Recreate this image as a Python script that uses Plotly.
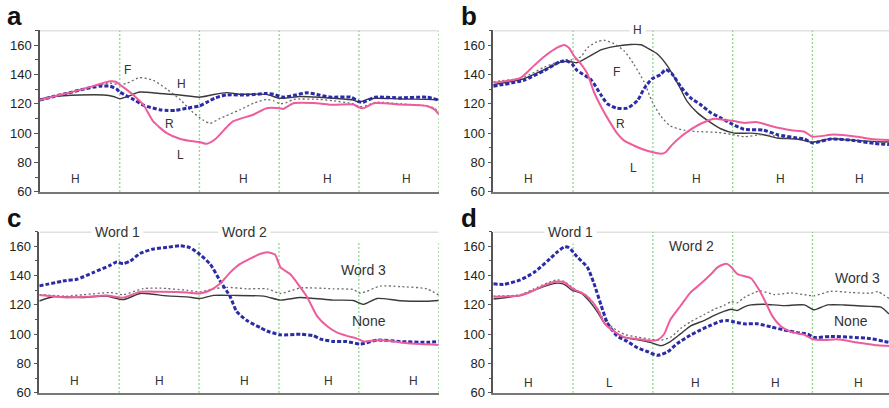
import plotly.graph_objects as go

# ---------------- data (x in segment units, y in Hz) ----------------
# Panel a
a_black_x = [0, 0.17, 0.5, 0.8, 0.92, 1.0, 1.1, 1.25, 1.5, 1.75, 2.0, 2.15, 2.34, 2.5, 2.84, 3.0, 3.1, 3.26, 3.5, 3.68, 3.93, 4.0, 4.1, 4.2, 4.52, 4.85, 5.0]
a_black_y = [123, 125, 126, 126, 125, 123.5, 125, 128, 127, 126, 124.5, 126, 127.6, 126.5, 126.4, 123.8, 124, 125, 124.5, 123.8, 122.5, 121, 123, 123.8, 123.3, 123, 122.7]
a_blue_x = [0, 0.17, 0.33, 0.55, 0.75, 0.88, 0.96, 1.0, 1.1, 1.17, 1.3, 1.5, 1.6, 1.7, 1.84, 2.0, 2.09, 2.2, 2.34, 2.6, 2.84, 2.93, 3.05, 3.2, 3.35, 3.5, 3.65, 3.9, 4.0, 4.05, 4.2, 4.5, 4.85, 5.0]
a_blue_y = [122.5, 125, 127, 130, 132, 132, 130, 128, 125, 123, 119, 116, 115.5, 115.5, 117, 118.5, 121, 124, 126, 126, 127, 126.5, 124.5, 126, 127.5, 126, 124.5, 124.5, 121.5, 121, 124.5, 124, 124.5, 122.5]
a_pink_x = [0, 0.17, 0.33, 0.6, 0.75, 0.88, 0.95, 1.0, 1.09, 1.17, 1.3, 1.42, 1.59, 1.76, 1.92, 2.0, 2.09, 2.2, 2.34, 2.42, 2.68, 2.84, 3.0, 3.05, 3.18, 3.43, 3.68, 3.93, 4.0, 4.05, 4.2, 4.52, 4.85, 4.95, 5.0]
a_pink_y = [122.5, 125, 127, 131, 133.5, 135.3, 135, 133, 129.5, 126, 119, 108, 100, 96, 94.4, 94, 92.7, 96, 104, 108, 112.7, 117, 117, 116.5, 120.4, 120.5, 119.3, 119.5, 117.5, 117, 120.5, 119.5, 118.5, 116, 113]
a_dot_x = [0, 0.33, 0.6, 0.88, 1.0, 1.09, 1.25, 1.42, 1.59, 1.76, 1.9, 2.05, 2.13, 2.26, 2.51, 2.68, 2.84, 2.93, 3.01, 3.1, 3.18, 3.5, 3.68, 3.93, 4.01, 4.1, 4.22, 4.52, 4.85, 4.95, 5.0]
a_dot_y = [123, 127, 131, 134, 133, 134, 137.8, 136, 130, 122.7, 115, 108.7, 106.7, 110, 116, 120.4, 123, 122, 120, 121, 123, 123, 122, 120, 118, 119, 121, 120, 118.5, 117, 113]

# Panel b
b_black_x = [0, 0.38, 0.64, 0.84, 0.93, 0.99, 1.05, 1.18, 1.35, 1.51, 1.72, 1.85, 1.93, 2.06, 2.18, 2.32, 2.43, 2.56, 2.73, 2.85, 3.02, 3.23, 3.39, 3.56, 3.81, 4.0, 4.23, 4.56, 4.82, 4.96]
b_black_y = [133, 137, 143.3, 148.2, 149, 148.5, 148, 151.6, 156.7, 158.9, 160.4, 160.2, 158, 153.8, 146, 133, 121.6, 113.8, 107, 103, 100, 100, 98.9, 96.7, 96, 93.8, 96.2, 95, 94.2, 94]
b_blue_x = [0, 0.38, 0.64, 0.84, 0.93, 0.99, 1.05, 1.22, 1.35, 1.43, 1.55, 1.68, 1.81, 1.89, 1.99, 2.10, 2.16, 2.24, 2.35, 2.47, 2.60, 2.73, 2.85, 3.0, 3.14, 3.39, 3.56, 3.77, 3.90, 4.0, 4.23, 4.52, 4.77, 4.96]
b_blue_y = [132, 136, 142.7, 148.7, 149, 147, 142.7, 136.7, 126, 120, 117, 117, 122.4, 130.4, 137, 140, 143.3, 140.4, 131.6, 124.2, 119.3, 113.8, 110.4, 106, 102.7, 102, 99, 97, 96, 93.3, 96, 95, 93, 92.2]
b_pink_x = [0, 0.34, 0.51, 0.64, 0.80, 0.89, 0.95, 1.01, 1.10, 1.18, 1.26, 1.35, 1.43, 1.55, 1.64, 1.76, 1.89, 1.99, 2.10, 2.16, 2.24, 2.35, 2.45, 2.60, 2.77, 2.89, 3.02, 3.14, 3.31, 3.48, 3.73, 3.90, 4.0, 4.27, 4.56, 4.73, 4.96]
b_pink_y = [134.4, 137.6, 146, 152.2, 158.2, 160, 158, 152.7, 147, 140.4, 128.2, 118.2, 110.4, 100, 94.9, 91.6, 88.7, 87.1, 86, 87, 92, 97.6, 101.6, 106.4, 109.8, 109, 108.2, 107, 107.5, 104.9, 102, 101, 97.6, 99, 97.5, 96, 95.3]
b_dot_x = [0, 0.38, 0.64, 0.89, 0.99, 1.10, 1.18, 1.30, 1.39, 1.51, 1.64, 1.76, 1.89, 1.99, 2.10, 2.22, 2.39, 2.56, 2.81, 3.0, 3.14, 3.39, 3.64, 3.81, 4.0, 4.23, 4.56, 4.82, 4.96]
b_dot_y = [135, 138, 145, 150, 150, 152.2, 158.2, 162.2, 163.3, 161, 156, 147.1, 134.9, 121.6, 111.6, 104.9, 102, 101.1, 100.5, 99, 97.6, 99, 97, 96, 94, 96, 95, 94, 94]

# Panel c
c_blue_x = [0, 0.34, 0.47, 0.68, 0.89, 0.97, 1.05, 1.14, 1.26, 1.43, 1.60, 1.76, 1.89, 2.01, 2.14, 2.26, 2.39, 2.47, 2.60, 2.77, 2.85, 3.02, 3.27, 3.43, 3.52, 3.68, 3.85, 4.02, 4.23, 4.52, 4.85, 5.0]
c_blue_y = [133, 136.7, 137.5, 142.2, 147.1, 149.3, 148.2, 150, 155.1, 158.2, 159.3, 160.4, 159, 154.4, 147.8, 136.7, 125.6, 115.6, 109.3, 104.4, 102.2, 99.6, 100, 99, 96.7, 95.1, 95, 93.3, 96, 95, 94.5, 95]
c_black_x = [0, 0.175, 0.55, 0.84, 1.05, 1.26, 1.39, 1.60, 1.85, 2.01, 2.18, 2.43, 2.81, 3.02, 3.27, 3.68, 3.93, 4.06, 4.23, 4.52, 4.85, 5.0]
c_black_y = [122.7, 125.6, 125, 126, 123.6, 127.8, 127.5, 126.2, 125.5, 124.4, 126.5, 126.5, 126, 123.3, 125.1, 123.3, 123, 120.4, 124.4, 122.9, 122.5, 123]
c_dot_x = [0, 0.34, 0.55, 0.89, 1.05, 1.30, 1.51, 1.85, 2.01, 2.18, 2.35, 2.60, 2.85, 3.02, 3.27, 3.68, 3.93, 4.02, 4.27, 4.52, 4.85, 5.0]
c_dot_y = [127.1, 126, 127, 128.4, 127, 131.1, 131.5, 130, 128.9, 131, 132, 131, 131, 127.8, 131.6, 131, 130.5, 128, 132.9, 132.5, 131, 126.7]
c_pink_x = [0, 0.34, 0.59, 0.84, 1.05, 1.26, 1.51, 1.85, 2.01, 2.14, 2.26, 2.39, 2.51, 2.64, 2.77, 2.85, 2.95, 3.02, 3.14, 3.22, 3.35, 3.48, 3.60, 3.73, 3.85, 3.98, 4.06, 4.27, 4.52, 4.77, 5.0]
c_pink_y = [126.7, 125.1, 125.5, 126.5, 125, 128.9, 129, 128.5, 127.8, 130, 134.4, 142.2, 147.8, 151.6, 154.9, 156, 154.4, 145.6, 141.1, 135.6, 125.6, 112.2, 105.6, 101.1, 98.9, 97, 95.1, 96, 94.4, 93.3, 92.7]

# Panel d
d_blue_x = [0, 0.13, 0.34, 0.51, 0.68, 0.80, 0.89, 0.95, 1.05, 1.18, 1.26, 1.35, 1.43, 1.55, 1.68, 1.81, 1.93, 2.06, 2.18, 2.31, 2.47, 2.60, 2.73, 2.85, 2.93, 3.02, 3.14, 3.31, 3.48, 3.64, 3.81, 3.94, 4.02, 4.23, 4.48, 4.73, 4.90, 4.96]
d_blue_y = [134.4, 134, 137.1, 142.2, 150, 156, 159.6, 159, 152.9, 145.6, 134.9, 120, 107.8, 98.9, 95.1, 90.7, 88.2, 85.6, 87.8, 93.8, 99.3, 103, 106.2, 108.9, 109.3, 108.4, 107.1, 107.1, 105, 103, 101.1, 100, 97.8, 98.5, 98, 97, 95.1, 94.5]
d_black_x = [0, 0.34, 0.51, 0.68, 0.80, 0.89, 0.99, 1.10, 1.18, 1.30, 1.39, 1.51, 1.64, 1.81, 1.97, 2.10, 2.22, 2.35, 2.47, 2.64, 2.77, 2.89, 2.98, 3.06, 3.14, 3.23, 3.39, 3.64, 3.90, 4.02, 4.19, 4.40, 4.73, 4.86, 4.96]
d_black_y = [124, 126.5, 130, 133.3, 134.9, 134, 130, 128, 124, 115.6, 107.8, 102.2, 97.8, 96.2, 94.4, 92.2, 95, 100.4, 105.6, 109.3, 112.9, 115.6, 117.1, 116.2, 118.5, 120, 120.5, 119.5, 120, 116.7, 120, 120, 119, 118.5, 113.8]
d_pink_x = [0, 0.34, 0.51, 0.68, 0.80, 0.89, 0.99, 1.10, 1.18, 1.30, 1.39, 1.51, 1.64, 1.81, 1.97, 2.06, 2.14, 2.22, 2.35, 2.47, 2.60, 2.73, 2.81, 2.89, 2.93, 2.98, 3.06, 3.23, 3.31, 3.39, 3.50, 3.60, 3.73, 3.90, 4.0, 4.15, 4.31, 4.56, 4.82, 4.96]
d_pink_y = [125.6, 126.5, 130, 134.4, 136, 135.5, 131.1, 128.5, 125.6, 117.8, 107.8, 102, 98, 96.7, 95.5, 96.2, 100, 110, 119.6, 128.4, 134.4, 141.1, 145.6, 147.8, 148, 146, 141.1, 138.2, 132.2, 124.4, 112.2, 105.6, 101.6, 99.6, 96.7, 96, 96.5, 94.4, 92.4, 92]
d_dot_x = [0, 0.34, 0.51, 0.68, 0.80, 0.89, 0.99, 1.10, 1.18, 1.30, 1.39, 1.51, 1.64, 1.81, 1.97, 2.10, 2.22, 2.35, 2.47, 2.64, 2.77, 2.89, 2.98, 3.06, 3.14, 3.27, 3.35, 3.52, 3.73, 3.90, 4.02, 4.23, 4.48, 4.73, 4.82, 4.96]
d_dot_y = [126, 127, 131, 135, 137.1, 136, 132, 128, 126, 118, 110, 104, 100, 98, 96.7, 96, 97.8, 104, 108.4, 113.3, 117.1, 119.6, 122.2, 121.5, 124.9, 128.4, 129.6, 127.1, 128.2, 127, 126.2, 129.3, 128.5, 128, 129, 124.4]

# bottom segment labels
a_seg_labels = ["H", "H", "H", "H"]
a_seg_x = [0.45, 2.55, 3.6, 4.59]
b_seg_labels = ["H", "H", "H", "H"]
b_seg_x = [0.435, 2.55, 3.6, 4.59]
c_seg_labels = ["H", "H", "H", "H", "H"]
c_seg_x = [0.435, 1.50, 2.57, 3.62, 4.69]
d_seg_labels = ["H", "L", "H", "H", "H"]
d_seg_x = [0.44, 1.46, 2.54, 3.54, 4.58]

Y_TICKS = [60, 80, 100, 120, 140, 160]

PINK = "#EE5C9C"
BLUE = "#2B2BA8"
BLACK = "#3a3a3a"
GRAY = "#6a6a6a"
GREEN = "#66CC66"
FONT = "Liberation Sans, Arial, sans-serif"

fig = go.Figure()

panels = [
    # name, xaxis id, yaxis id, x domain, y domain, x max
    dict(key="a", xa="x", ya="y", xd=[40/889, 438.7/889], yd=[(408-195.7)/408, (408-31)/408], xmax=5.0),
    dict(key="b", xa="x2", ya="y2", xd=[493.3/889, 1.0], yd=[(408-195.7)/408, (408-31)/408], xmax=4.96),
    dict(key="c", xa="x3", ya="y3", xd=[39.3/889, 438.7/889], yd=[(408-400.7)/408, (408-236.3)/408], xmax=5.0),
    dict(key="d", xa="x4", ya="y4", xd=[493.3/889, 1.0], yd=[(408-400.7)/408, (408-236.3)/408], xmax=4.96),
]

series = {
    "a": [(a_black_x, a_black_y, "black"), (a_dot_x, a_dot_y, "dot"), (a_blue_x, a_blue_y, "blue"), (a_pink_x, a_pink_y, "pink")],
    "b": [(b_black_x, b_black_y, "black"), (b_dot_x, b_dot_y, "dot"), (b_blue_x, b_blue_y, "blue"), (b_pink_x, b_pink_y, "pink")],
    "c": [(c_black_x, c_black_y, "black"), (c_dot_x, c_dot_y, "dot"), (c_blue_x, c_blue_y, "blue"), (c_pink_x, c_pink_y, "pink")],
    "d": [(d_black_x, d_black_y, "black"), (d_dot_x, d_dot_y, "dot"), (d_blue_x, d_blue_y, "blue"), (d_pink_x, d_pink_y, "pink")],
}

styles = {
    "black": dict(color=BLACK, width=1.4),
    "dot": dict(color=GRAY, width=1.3, dash="2px,2.5px"),
    "blue": dict(color=BLUE, width=3, dash="4px,2px"),
    "pink": dict(color=PINK, width=2),
}

seg_info = {
    "a": (a_seg_x, a_seg_labels, 68.7),
    "b": (b_seg_x, b_seg_labels, 68.7),
    "c": (c_seg_x, c_seg_labels, 67.8),
    "d": (d_seg_x, d_seg_labels, 66.7),
}

shapes = []
annotations = []

for i, p in enumerate(panels):
    suffix = "" if i == 0 else str(i + 1)
    for xs, ys, kind in series[p["key"]]:
        fig.add_trace(go.Scatter(x=xs, y=ys, mode="lines", xaxis=p["xa"], yaxis=p["ya"],
                                 line=dict(shape="spline", smoothing=0.6, **styles[kind]),
                                 showlegend=False, hoverinfo="skip"))
    fig.layout["xaxis" + suffix] = dict(domain=p["xd"], range=[0, p["xmax"]], anchor=p["ya"],
                                        showgrid=False, zeroline=False, showticklabels=False,
                                        showline=True, linecolor="#777777", linewidth=1.5, ticks="")
    fig.layout["yaxis" + suffix] = dict(domain=p["yd"], range=[60, 170], anchor=p["xa"],
                                        showgrid=False, zeroline=False, tickvals=Y_TICKS,
                                        showline=True, linecolor="#555555", linewidth=1.5,
                                        ticks="outside", ticklen=4, tickcolor="#555555", tickwidth=1.2,
                                        minor=dict(ticks="outside", ticklen=3, tickcolor="#555555", dtick=10, tick0=60),
                                        tickfont=dict(family=FONT, size=13, color="#222222"))
    # top border
    shapes.append(dict(type="line", xref=p["xa"], yref=p["ya"], x0=0, x1=p["xmax"], y0=170, y1=170,
                       line=dict(color="#c4c4c4", width=1.5), layer="below"))
    # green segment boundaries
    top = 163 if p["key"] == "c" else 170
    for b in [1, 2, 3, 4, 5]:
        if b <= p["xmax"]:
            shapes.append(dict(type="line", xref=p["xa"], yref=p["ya"], x0=b, x1=b, y0=60, y1=top,
                               line=dict(color=GREEN, width=1.3, dash="1.5px,2.5px"), layer="below"))
    xs, labs, yv = seg_info[p["key"]]
    for xv, lab in zip(xs, labs):
        annotations.append(dict(x=xv, y=yv, xref=p["xa"], yref=p["ya"], text=lab, showarrow=False,
                                font=dict(family=FONT, size=12, color="#333333")))

# panel letters
for lab, px, py in [("a", 14, 16), ("b", 469, 16), ("c", 14, 222), ("d", 469, 222)]:
    annotations.append(dict(x=px/889, y=1-py/408, xref="paper", yref="paper", text="<b>%s</b>" % lab,
                            showarrow=False, font=dict(family=FONT, size=26, color="#111111"),
                            xanchor="center", yanchor="middle"))

# in-panel text labels
inner = [
    ("x", "y", "F", 1.10, 142.7, 12, False),
    ("x", "y", "H", 1.78, 133.8, 12, False),
    ("x", "y", "R", 1.62, 106, 12, False),
    ("x", "y", "L", 1.76, 85, 12, False),
    ("x2", "y2", "H", 1.81, 170, 12, True),
    ("x2", "y2", "F", 1.55, 141.6, 12, False),
    ("x2", "y2", "R", 1.60, 106, 12, False),
    ("x2", "y2", "L", 1.76, 76, 12, False),
    ("x3", "y3", "Word 1", 0.98, 170, 14, True),
    ("x3", "y3", "Word 2", 2.57, 170, 14, True),
    ("x3", "y3", "Word 3", 4.06, 144, 14, False),
    ("x3", "y3", "None", 4.13, 109.3, 14, False),
    ("x4", "y4", "Word 1", 0.965, 170, 14, True),
    ("x4", "y4", "Word 2", 2.48, 160, 14, False),
    ("x4", "y4", "Word 3", 4.56, 138.3, 14, False),
    ("x4", "y4", "None", 4.48, 109.3, 14, False),
]
for xa, ya, txt, xv, yv, fs, bg in inner:
    a = dict(x=xv, y=yv, xref=xa, yref=ya, text=txt, showarrow=False,
             font=dict(family=FONT, size=fs, color="#333333"))
    if bg:
        a["bgcolor"] = "white"
        a["borderpad"] = 3
    annotations.append(a)

fig.update_layout(width=889, height=408, margin=dict(l=0, r=0, t=0, b=0),
                  paper_bgcolor="white", plot_bgcolor="white",
                  shapes=shapes, annotations=annotations, showlegend=False)

fig.write_html("out.html")
